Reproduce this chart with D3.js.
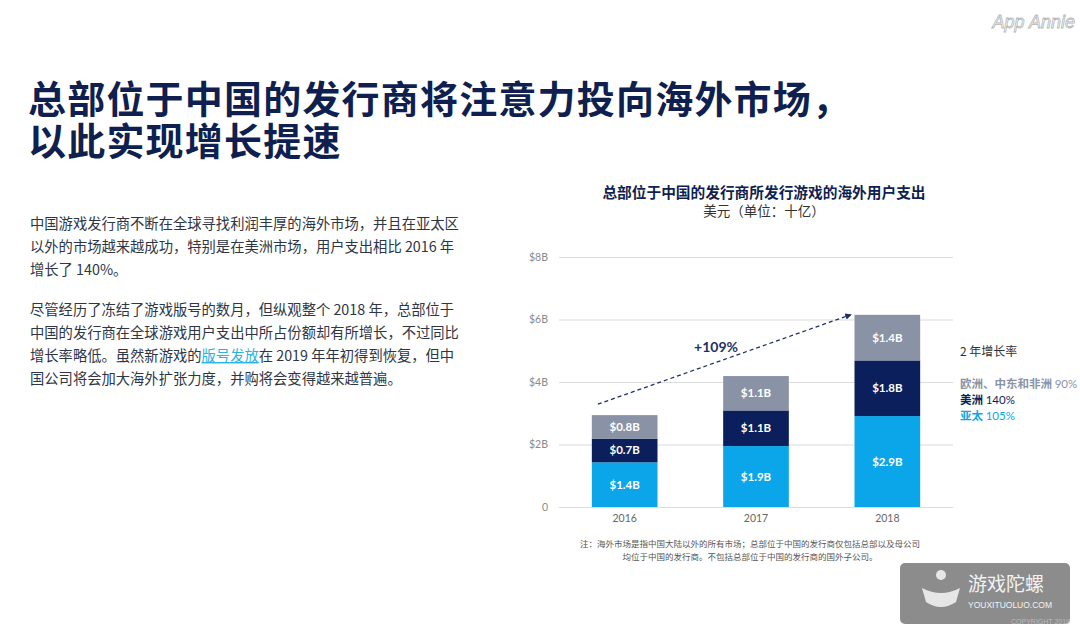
<!DOCTYPE html>
<html><head><meta charset="utf-8">
<script src="https://cdn.jsdelivr.net/npm/d3@7"></script>
<style>
html,body{margin:0;padding:0;background:#fff;}
svg{display:block;font-family:"Noto Sans CJK SC","Noto Sans",sans-serif;}
</style></head>
<body>
<svg id="c" width="1080" height="635"></svg>
<script>
// ---- data ----
const years = ["2016", "2017", "2018"];
const seriesKeys = ["asia", "americas", "emea"];
const asiaValues = [1.43, 1.95, 2.91];
const americasValues = [0.76, 1.14, 1.78];
const emeaValues = [0.75, 1.10, 1.46];
const asiaLabels = ["$1.4B", "$1.9B", "$2.9B"];
const americasLabels = ["$0.7B", "$1.1B", "$1.8B"];
const emeaLabels = ["$0.8B", "$1.1B", "$1.4B"];
const yTicks = [0, 2, 4, 6, 8];
const yTickLabels = ["0", "$2B", "$4B", "$6B", "$8B"];
const growthLabel = "+109%";
const legendTitle = "2 年增长率";
const legendNames = ["欧洲、中东和非洲", "美洲", "亚太"];
const legendGrowth = ["90%", "140%", "105%"];
const titleLines = ["总部位于中国的发行商将注意力投向海外市场，", "以此实现增长提速"];
const chartTitle = "总部位于中国的发行商所发行游戏的海外用户支出";
const chartSubtitle = "美元（单位：十亿）";
const para1 = ["中国游戏发行商不断在全球寻找利润丰厚的海外市场，并且在亚太区", "以外的市场越来越成功，特别是在美洲市场，用户支出相比 2016 年", "增长了 140%。"];
const para2 = ["尽管经历了冻结了游戏版号的数月，但纵观整个 2018 年，总部位于", "中国的发行商在全球游戏用户支出中所占份额却有所增长，不过同比", ["增长率略低。虽然新游戏的", "版号发放", "在 2019 年年初得到恢复，但中"], "国公司将会加大海外扩张力度，并购将会变得越来越普遍。"];
const notes = ["注：海外市场是指中国大陆以外的所有市场；总部位于中国的发行商仅包括总部以及母公司", "均位于中国的发行商。不包括总部位于中国的发行商的国外子公司。"];

const colors = {asia: "#0ba6ea", americas: "#0b1f5c", emea: "#8a93a6"};
const navy = "#0f1f4f";

const rows = years.map((y, i) => ({year: y, asia: asiaValues[i], americas: americasValues[i], emea: emeaValues[i],
  labels: {asia: asiaLabels[i], americas: americasLabels[i], emea: emeaLabels[i]}}));

const svg = d3.select("#c");

// watermark top right
svg.append("text").attr("x", 1075).attr("y", 28).attr("text-anchor", "end")
  .attr("font-family", "Liberation Sans, sans-serif").attr("font-style", "italic")
  .attr("font-size", 18).attr("fill", "none").attr("stroke", "#b5b5b5").attr("stroke-width", 0.8)
  .text("App Annie");

// main title (one text block, two lines)
const tt = svg.append("text").attr("x", 28).attr("y", 113)
  .attr("font-size", 38).attr("letter-spacing", 1.2).attr("font-weight", 700).attr("fill", navy);
tt.selectAll("tspan").data(titleLines).join("tspan")
  .attr("x", 28).attr("dy", (d, i) => i === 0 ? 0 : 42).text(d => d);

// body text
const bodyColor = "#2e3646";
const body = svg.append("g").attr("font-size", 14.3).attr("fill", bodyColor);
para1.forEach((l, i) => body.append("text").attr("x", 30).attr("y", 229 + i * 23).text(l));
para2.forEach((l, i) => {
  const t = body.append("text").attr("x", 30).attr("y", 315 + i * 23);
  if (Array.isArray(l)) {
    t.append("tspan").text(l[0]);
    t.append("tspan").attr("fill", "#2bb3e6").attr("text-decoration", "underline").text(l[1]);
    t.append("tspan").text(l[2]);
  } else t.text(l);
});

// chart
const x = d3.scaleBand().domain(years).range([559, 953]).paddingInner(0.5).paddingOuter(0.25);
const y = d3.scaleLinear().domain([0, 8]).range([507, 257]);

// chart titles
svg.append("text").attr("x", 764).attr("y", 198).attr("text-anchor", "middle")
  .attr("font-size", 14.7).attr("font-weight", 700).attr("fill", navy).text(chartTitle);
svg.append("text").attr("x", 764).attr("y", 216).attr("text-anchor", "middle")
  .attr("font-size", 13.5).attr("fill", "#333").text(chartSubtitle);

// grid
const yAxis = d3.axisLeft(y).tickValues(yTicks).tickFormat((d, i) => yTickLabels[i])
  .tickSize(-(953 - 559)).tickPadding(11);
const ga = svg.append("g").attr("transform", "translate(559,0)").call(yAxis);
ga.select(".domain").remove();
ga.selectAll(".tick line").attr("stroke", "#dcdcdc").attr("stroke-width", 1.2);
ga.selectAll(".tick text").attr("font-size", 10.5).attr("fill", "#8a8a8a").attr("font-family", "Lato, sans-serif");

// bars
const stacked = d3.stack().keys(seriesKeys)(rows);
const gb = svg.append("g");
stacked.forEach(s => {
  gb.append("g").selectAll("rect").data(s).join("rect")
    .attr("x", d => x(d.data.year)).attr("width", x.bandwidth())
    .attr("y", d => y(d[1])).attr("height", d => y(d[0]) - y(d[1]))
    .attr("fill", colors[s.key]);
  gb.append("g").selectAll("text").data(s).join("text")
    .attr("x", d => x(d.data.year) + x.bandwidth() / 2)
    .attr("y", d => (y(d[0]) + y(d[1])) / 2 + 4)
    .attr("text-anchor", "middle").attr("font-size", 11.5).attr("font-weight", 700)
    .attr("font-family", "Lato, sans-serif").attr("fill", "#fff")
    .text(d => d.data.labels[s.key]);
});

// x axis labels
const xAxis = d3.axisBottom(x).tickSize(0).tickPadding(8);
const gx = svg.append("g").attr("transform", "translate(0,507)").call(xAxis);
gx.select(".domain").remove();
gx.selectAll(".tick text").attr("font-size", 10.5).attr("fill", "#666").attr("font-family", "Lato, sans-serif");

// growth arrow
const totals = rows.map(r => r.asia + r.americas + r.emea);
svg.append("defs").append("marker").attr("id", "ah").attr("viewBox", "0 0 10 10")
  .attr("refX", 8).attr("refY", 5).attr("markerWidth", 5).attr("markerHeight", 5).attr("orient", "auto")
  .append("path").attr("d", "M0,0L10,5L0,10z").attr("fill", "#1d3166");
const ax0 = x("2016") + 6, ay0 = y(totals[0] + 0.35);
const ax1 = x("2018") - 4, ay1 = y(totals[2]);
svg.append("line").attr("x1", ax0).attr("y1", ay0).attr("x2", ax1).attr("y2", ay1)
  .attr("stroke", "#1d3166").attr("stroke-width", 1.3).attr("stroke-dasharray", "4,3")
  .attr("marker-end", "url(#ah)");
svg.append("text").attr("x", 716).attr("y", 352).attr("text-anchor", "middle")
  .attr("font-size", 14).attr("font-weight", 700).attr("font-family", "Lato, sans-serif")
  .attr("fill", "#1d3166").text(growthLabel);

// legend
svg.append("text").attr("x", 960).attr("y", 356).attr("font-size", 12).attr("fill", "#333").text(legendTitle);
const legColors = [colors.emea, colors.americas, colors.asia];
legendNames.forEach((n, i) => {
  const t = svg.append("text").attr("x", 960).attr("y", 388 + i * 16).attr("font-size", 11.5);
  t.append("tspan").attr("font-weight", 700).attr("fill", legColors[i]).text(n + " ");
  t.append("tspan").attr("fill", legColors[i]).attr("font-family", "Lato, sans-serif").text(legendGrowth[i]);
});

// notes
svg.append("g").selectAll("text").data(notes).join("text")
  .attr("x", 750).attr("y", (d, i) => 547 + i * 13).attr("text-anchor", "middle")
  .attr("font-size", 8.5).attr("fill", "#555").text(d => d);

// bottom-right badge
const badge = svg.append("g");
badge.append("rect").attr("x", 900).attr("y", 563).attr("width", 170).attr("height", 61).attr("rx", 5)
  .attr("fill", "#8c8c8c");
badge.append("circle").attr("cx", 941).attr("cy", 575).attr("r", 5).attr("fill", "#e6e6e6");
badge.append("path").attr("d", "M922,588 Q941,598 960,588 L956,602 Q941,612 926,602 Z").attr("fill", "#e6e6e6");
badge.append("text").attr("x", 968).attr("y", 591).attr("font-size", 19).attr("fill", "#f2f2f2").text("游戏陀螺");
badge.append("text").attr("x", 968).attr("y", 608).attr("font-size", 8.5).attr("fill", "#f2f2f2")
  .attr("font-family", "Liberation Sans, sans-serif").text("YOUXITUOLUO.COM");
badge.append("text").attr("x", 1070).attr("y", 624).attr("text-anchor", "end").attr("font-size", 7)
  .attr("fill", "#bbb").attr("font-family", "Liberation Sans, sans-serif").text("COPYRIGHT 2019");
</script>
</body></html>
